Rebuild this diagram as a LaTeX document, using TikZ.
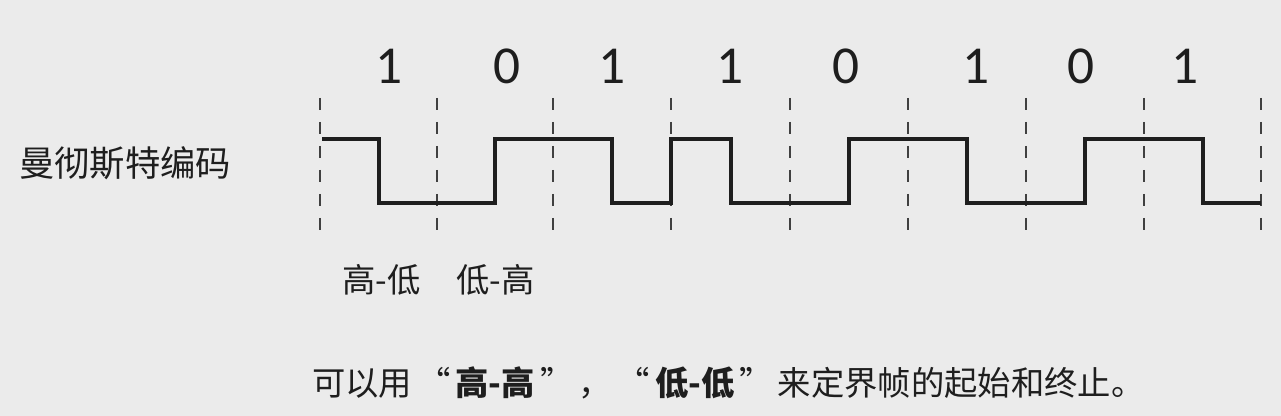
\documentclass[tikz,border=0pt]{standalone}
\usepackage{fontspec}
\setmainfont{Carlito}
\newfontfamily\cjk{Noto Sans CJK SC}
\definecolor{bg}{HTML}{EBEBEB}
\definecolor{ink}{HTML}{1E1E1E}
\newcommand{\oq}{\makebox[1.3em][c]{“}}
\newcommand{\cq}{\makebox[1.3em][c]{”}}
\begin{document}
\begin{tikzpicture}[x=0.75pt,y=-0.75pt,
  bitlabel/.style={inner sep=0pt,text=ink,font=\fontsize{40}{40}\selectfont},
  cjklabel/.style={inner sep=0pt,text=ink,anchor=west},
  divider/.style={draw=ink!85,line width=1.5pt,dash pattern=on 9pt off 9pt},
  signal/.style={draw=ink,line width=3pt,line join=miter}]
\useasboundingbox[fill=bg] (0,0) rectangle (1281,416);
% bit-cell dividers
\foreach \x [count=\i] in {320,437,553,671,790,908,1026,1144,1261}
  \draw[divider] (\x,98) -- (\x,238);
% bit values
\foreach \x/\b [count=\i] in {389/1,507/0,612/1,730/1,846/0,976/1,1081/0,1185/1}
  \node[bitlabel] (bit\i) at (\x,66) {\b};
% Manchester signal
\def\H{139}\def\L{203}
\draw[signal] (322,\H) -- (378.5,\H) -- (378.5,\L) -- (437,\L)
  -- (495,\L) -- (495,\H) -- (553,\H)
  -- (612,\H) -- (612,\L) -- (671,\L) -- (671,\H)
  -- (730.5,\H) -- (730.5,\L) -- (790,\L)
  -- (849,\L) -- (849,\H) -- (908,\H)
  -- (967,\H) -- (967,\L) -- (1026,\L)
  -- (1085,\L) -- (1085,\H) -- (1144,\H)
  -- (1202.5,\H) -- (1202.5,\L) -- (1261,\L);
% labels
\node[cjklabel,font=\cjk\fontsize{26.5}{26.5}\selectfont] (name) at (19,163) {曼彻斯特编码};
\node[cjklabel,font=\cjk\fontsize{25}{25}\selectfont] (hl) at (342,280) {高-低};
\node[cjklabel,font=\cjk\fontsize{25}{25}\selectfont] (lh) at (456,280) {低-高};
\node[cjklabel,font=\cjk\fontsize{25}{25}\selectfont] (note) at (312,383) {可以用\oq\textbf{高-高}\cq，\oq\textbf{低-低}\cq 来定界帧的起始和终止。};
\end{tikzpicture}
\end{document}
